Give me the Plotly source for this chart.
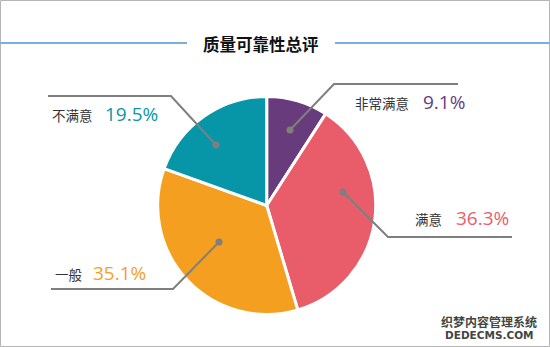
import plotly.graph_objects as go

W, H = 550, 347

categories = ["非常满意", "满意", "一般", "不满意"]
values = [9.1, 36.3, 35.1, 19.5]
colors = ["#683b7c", "#e95d6a", "#f49f1f", "#0796a8"]
title_text = "质量可靠性总评"

# label layout (pixel positions of leader lines / labels)
label_layout = {
    "非常满意": dict(dot=(290, 130), elbow=(334, 84), end=(458, 84), name_x=353, val_x=422, y=102, side="right"),
    "满意": dict(dot=(343, 192), elbow=(388, 237), end=(512, 237), name_x=413, val_x=455, y=218, side="right"),
    "一般": dict(dot=(219, 242), elbow=(173, 289), end=(51, 289), name_x=53, val_x=92, y=273, side="left"),
    "不满意": dict(dot=(216, 145), elbow=(171, 96), end=(48, 96), name_x=50, val_x=104, y=114, side="left"),
}

def px(x):
    return x / W

def py(y):
    return 1 - y / H

cx, cy, r = 266.7, 205.5, 109

fig = go.Figure(go.Pie(
    labels=categories,
    values=values,
    sort=False,
    direction="clockwise",
    rotation=0,
    marker=dict(colors=colors, line=dict(color="white", width=3)),
    textinfo="none",
    hoverinfo="label+percent",
    showlegend=False,
    domain=dict(x=[px(cx - r), px(cx + r)], y=[py(cy + r), py(cy - r)]),
))

shapes = []
annotations = []

# border
shapes.append(dict(type="rect", xref="paper", yref="paper", x0=px(0.5), x1=px(549.5), y0=py(346.5), y1=py(0.5),
                   line=dict(color="#b5b5b5", width=1)))
# title lines
shapes.append(dict(type="line", xref="paper", yref="paper", x0=0, x1=px(187), y0=py(43), y1=py(43),
                   line=dict(color="#7aaede", width=2)))
shapes.append(dict(type="line", xref="paper", yref="paper", x0=px(335), x1=1, y0=py(43), y1=py(43),
                   line=dict(color="#7aaede", width=2)))
annotations.append(dict(text="<b>" + title_text + "</b>", x=px(261), y=py(44), xref="paper", yref="paper",
                        showarrow=False, xanchor="center", yanchor="middle",
                        font=dict(family="Noto Sans CJK SC", size=16.5, color="#111111")))

for cat, val, col in zip(categories, values, colors):
    L = label_layout[cat]
    (dx, dy), (ex, ey), (fx, fy) = L["dot"], L["elbow"], L["end"]
    path = f"M {px(dx)} {py(dy)} L {px(ex)} {py(ey)} L {px(fx)} {py(fy)}"
    shapes.append(dict(type="path", xref="paper", yref="paper", path=path,
                       line=dict(color="#7f7f7f", width=2)))
    rr = 3.5
    shapes.append(dict(type="circle", xref="paper", yref="paper",
                       x0=px(dx - rr), x1=px(dx + rr), y0=py(dy + rr), y1=py(dy - rr),
                       fillcolor="#7f7f7f", line=dict(width=0)))
    annotations.append(dict(text=cat, x=px(L["name_x"]), y=py(L["y"] + 1), xref="paper", yref="paper",
                            showarrow=False, xanchor="left", yanchor="middle",
                            font=dict(family="Noto Sans CJK SC", size=13.5, color="#333333")))
    annotations.append(dict(text=f"{val:.1f}%", x=px(L["val_x"] - 1), y=py(L["y"]), xref="paper", yref="paper",
                            showarrow=False, xanchor="left", yanchor="middle",
                            font=dict(family="Open Sans", size=19, color=col)))

# watermark
annotations.append(dict(text="<b>织梦内容管理系统</b>", x=px(489), y=py(321), xref="paper", yref="paper",
                        showarrow=False, xanchor="center", yanchor="middle",
                        font=dict(family="Noto Sans CJK SC", size=12, color="#444444")))
annotations.append(dict(text="<b>DEDECMS.COM</b>", x=px(489), y=py(335), xref="paper", yref="paper",
                        showarrow=False, xanchor="center", yanchor="middle",
                        font=dict(family="DejaVu Sans", size=10.5, color="#444444")))

fig.update_layout(
    width=W, height=H,
    margin=dict(l=0, r=0, t=0, b=0),
    paper_bgcolor="white",
    plot_bgcolor="white",
    shapes=shapes,
    annotations=annotations,
)

fig.write_html("out.html")
